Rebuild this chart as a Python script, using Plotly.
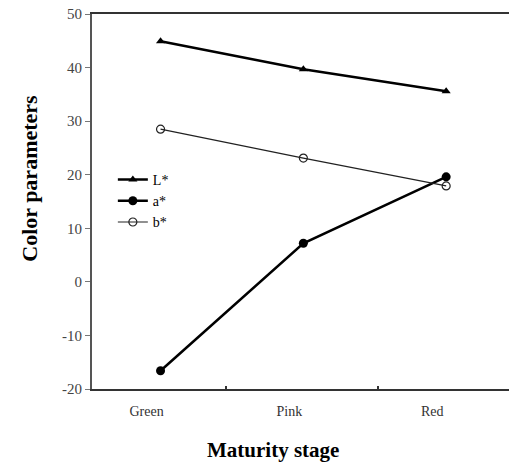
import plotly.graph_objects as go

stages = ["Green", "Pink", "Red"]
L_star = [44.9, 39.7, 35.6]
a_star = [-16.6, 7.2, 19.6]
b_star = [28.5, 23.1, 17.9]
y_ticks = [-20, -10, 0, 10, 20, 30, 40, 50]
y_tick_text = ["-20", "-10", "0", "10", "20", "30", "40", "50"]

xpos = list(range(len(stages)))

fig = go.Figure()
fig.add_trace(go.Scatter(x=xpos, y=L_star, name="L*", mode="lines+markers",
                         line=dict(color="black", width=2.5),
                         marker=dict(symbol="triangle-up", size=8, color="black")))
fig.add_trace(go.Scatter(x=xpos, y=a_star, name="a*", mode="lines+markers",
                         line=dict(color="black", width=2.5),
                         marker=dict(symbol="circle", size=9, color="black")))
fig.add_trace(go.Scatter(x=xpos, y=b_star, name="b*", mode="lines+markers",
                         line=dict(color="#222", width=1.2),
                         marker=dict(symbol="circle-open", size=8, color="#222",
                                     line=dict(width=1.2))))

font_family = "Liberation Serif, Times New Roman, serif"

fig.update_layout(
    width=509, height=466,
    margin=dict(l=92, r=0, t=14, b=77, autoexpand=False),
    paper_bgcolor="white", plot_bgcolor="white",
    font=dict(family=font_family, color="black"),
    showlegend=True,
    legend=dict(x=0.05, y=0.6, xanchor="left", yanchor="top",
                bgcolor="rgba(0,0,0,0)", font=dict(size=14, family=font_family, color="black"),
                tracegroupgap=0, itemwidth=30),
    xaxis=dict(range=[-0.48, 2.44], tickmode="array", tickvals=xpos, ticktext=stages,
               ticks="", showgrid=False, zeroline=False, automargin=False,
               showline=True, linecolor="#333", linewidth=2, mirror=True,
               tickfont=dict(size=14, color="#333", family=font_family),
               ticklabelshift=-14, ticklabelstandoff=8,
               minor=dict(tickmode="array", tickvals=[0.46, 1.52], ticks="inside",
                          ticklen=3, tickcolor="#333", tickwidth=1.5),
               fixedrange=True),
    yaxis=dict(range=[-20, 50], tickmode="array", tickvals=y_ticks, ticktext=y_tick_text,
               ticks="outside", ticklen=5, tickcolor="#777", tickwidth=1,
               showgrid=False, zeroline=False, automargin=False,
               showline=True, linecolor="#555", linewidth=2,
               ticklabeloverflow="allow",
               tickfont=dict(size=15, color="#444", family=font_family),
               fixedrange=True),
)

fig.add_annotation(text="<b>Color parameters</b>", xref="paper", yref="paper",
                   x=-0.149, y=0.563, xanchor="center", yanchor="middle", textangle=-90,
                   showarrow=False, font=dict(size=22, family=font_family, color="black"))
fig.add_annotation(text="<b>Maturity stage</b>", xref="paper", yref="paper",
                   x=0.434, y=-0.163, xanchor="center", yanchor="middle",
                   showarrow=False, font=dict(size=21, family=font_family, color="black"))

fig.write_html("out.html", config={"displayModeBar": False},
               post_script="document.body.style.margin='0';document.body.style.overflow='hidden';")
